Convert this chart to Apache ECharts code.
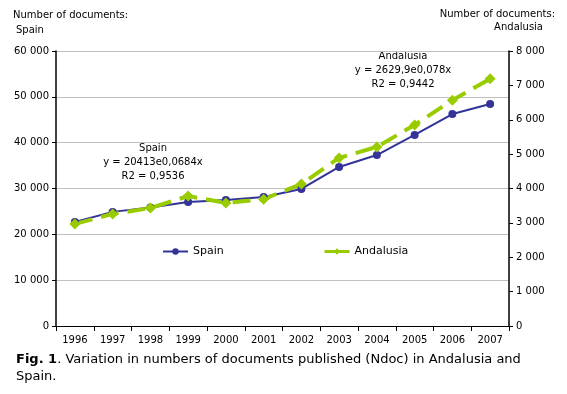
<!DOCTYPE html>
<html><head><meta charset="utf-8">
<script src="https://cdn.jsdelivr.net/npm/echarts@6/dist/echarts.min.js"></script>
<style>html,body{margin:0;padding:0;background:#fff}#c{width:567px;height:394px}</style>
</head><body><div id="c"></div>
<script>
const years = ['1996','1997','1998','1999','2000','2001','2002','2003','2004','2005','2006','2007'];
const spain = [22700, 24900, 25850, 27050, 27500, 28150, 29900, 34700, 37300, 41700, 46250, 48450];
const andalusia = [2970, 3260, 3430, 3780, 3580, 3690, 4130, 4890, 5210, 5850, 6570, 7190];
const leftTicks = 10000, rightTicks = 1000;

const F = 'DejaVu Sans, Verdana, sans-serif';
const fmt = v => v === 0 ? '0' : String(v).replace(/(\d)(?=(\d{3})+$)/, '$1 ');
const chart = echarts.init(document.getElementById('c'), null, {renderer:'canvas'});
chart.setOption({
  animation: false,
  textStyle: {fontFamily: F},
  grid: {left: 56, right: 58, top: 51, bottom: 68},
  legend: [
    {data: ['Spain'], left: 157, top: 241, itemWidth: 25, itemHeight: 8, textStyle: {fontFamily: F, fontSize: 11, color: '#000'}},
    {data: [{name: 'Andalusia', itemStyle: {color: '#99CC00'}, lineStyle: {type: 'solid', width: 3}}], left: 318, top: 241, itemWidth: 25, itemHeight: 8, textStyle: {fontFamily: F, fontSize: 11, color: '#000'}}
  ],
  xAxis: {
    type: 'category', data: years, boundaryGap: true,
    axisLine: {lineStyle: {color: '#000', width: 1}},
    axisTick: {show: true, length: 5, lineStyle: {color: '#000'}},
    axisLabel: {color: '#000', fontSize: 10, fontFamily: F, margin: 9},
    splitLine: {show: false}
  },
  yAxis: [
    {type: 'value', min: 0, max: 60000, interval: leftTicks, position: 'left',
     axisLine: {show: true, lineStyle: {color: '#000', width: 1.5}},
     axisTick: {show: true, length: 4, lineStyle: {color: '#000'}},
     axisLabel: {color: '#000', fontSize: 10, fontFamily: F, margin: 7, formatter: fmt},
     splitLine: {show: true, lineStyle: {color: '#c0c0c0', width: 1}}},
    {type: 'value', min: 0, max: 8000, interval: rightTicks, position: 'right',
     axisLine: {show: true, lineStyle: {color: '#000', width: 1.5}},
     axisTick: {show: true, length: 4, lineStyle: {color: '#000'}},
     axisLabel: {color: '#000', fontSize: 10, fontFamily: F, margin: 7, formatter: fmt},
     splitLine: {show: false}}
  ],
  series: [
    {name: 'Spain', type: 'line', yAxisIndex: 0, data: spain,
     symbol: 'circle', symbolSize: 8,
     itemStyle: {color: '#333399'}, lineStyle: {color: '#333399', width: 2}},
    {name: 'Andalusia', type: 'line', yAxisIndex: 1, data: andalusia,
     symbol: 'diamond', symbolSize: 11,
     itemStyle: {color: '#99CC00'}, lineStyle: {color: '#99CC00', width: 4, type: [18, 9]}}
  ],
  graphic: [
    {type: 'text', left: 13, top: 10, style: {text: 'Number of documents:', font: '10px ' + F, fill: '#000'}},
    {type: 'text', left: 16, top: 25, style: {text: 'Spain', font: '10px ' + F, fill: '#000'}},
    {type: 'text', right: 12, top: 9, style: {text: 'Number of documents:', font: '10px ' + F, fill: '#000'}},
    {type: 'text', right: 24, top: 22, style: {text: 'Andalusia', font: '10px ' + F, fill: '#000'}},
    {type: 'text', x: 153, y: 141, style: {text: 'Spain\ny = 20413e0,0684x\nR2 = 0,9536', font: '10px ' + F, fill: '#000', align: 'center', lineHeight: 14}},
    {type: 'text', x: 403, y: 49, style: {text: 'Andalusia\ny = 2629,9e0,078x\nR2 = 0,9442', font: '10px ' + F, fill: '#000', align: 'center', lineHeight: 14}},
    {type: 'text', left: 16, top: 353, style: {rich: {b: {fontWeight: 'bold', fontSize: 13, fontFamily: F, lineHeight: 17}, n: {fontSize: 13, fontFamily: F, lineHeight: 17}}, text: '{b|Fig. 1}{n|. Variation in numbers of documents published (Ndoc) in Andalusia and}\n{n|Spain.}', fill: '#000'}}
  ]
});
</script></body></html>
